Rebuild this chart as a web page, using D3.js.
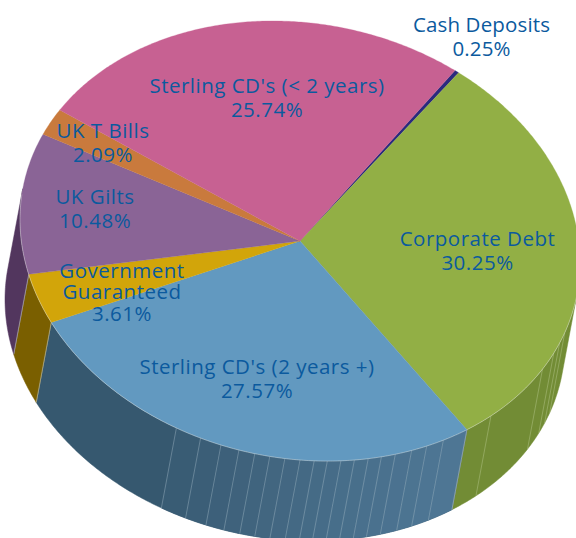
<!DOCTYPE html>
<html><head><meta charset="utf-8">
<script src="https://cdn.jsdelivr.net/npm/d3@7/dist/d3.min.js"></script>
<style>html,body{margin:0;padding:0;background:#fff;overflow:hidden}svg{display:block}</style>
</head><body><svg id="c" width="576" height="538"></svg>
<script>
const categories=["Cash Deposits","Corporate Debt","Sterling CD's (2 years +)","Government Guaranteed","UK Gilts","UK T Bills","Sterling CD's (< 2 years)"];
const shares=[0.25,30.25,27.57,3.61,10.48,2.09,25.74];
const topColors=["#2B2A7E","#92AF45","#6299C0","#D2A50A","#8A6496","#C97A3D","#C76192"];
const sideColors=["#1A1A50","#728C35","#36586F","#7A5F00","#52365E","#7D4C26","#7C3C5B"];
const blueCuts=[206.2,200.8,196.4,192.6,189.3,186.2,183.1,180,177.1,174.4,171.6,168.8,165.9,163.1,160.1,156.5,153.1,149.2];
const blueBands=["#36586F","#395C74","#3B5E77","#3D607A","#3F627C","#40647E","#426680","#436782","#446984","#456B86","#466C88","#476E8A","#486F8B","#49708D","#4A718E","#4B7290","#4C7491","#4D7593","#4E7694"];
const greenCuts=[137,120,115,112,109];
const labelLines=[["Cash Deposits","0.25%"],["Corporate Debt","30.25%"],["Sterling CD's (2 years +)","27.57%"],["Government","Guaranteed","3.61%"],["UK Gilts","10.48%"],["UK T Bills","2.09%"],["Sterling CD's (< 2 years)","25.74%"]];
const labelAnchors=[[481.5,31.5],[477.5,245.5],[257,374],[122,277.5],[95,204],[103,137.5],[267,92.5]];
const labelGaps=[24,24,24,21.7,24,24,24];
const labelTracking=[0.15,0.5,0.5,0.5,0.5,0.5,0.5];

const cx=300,cy=241,rx=280,ry=219,shear=0.077,dx=-15,dy=80;
const svg=d3.select("#c");
const sx=d3.scaleLinear().domain([-1,1]).range([cx-rx,cx+rx]);
const sy=d3.scaleLinear().domain([-1,1]).range([cy-ry,cy+ry]);
const rad=d=>d*Math.PI/180;
const pt=a=>{const s=Math.sin(a),c=Math.cos(a);return [sx(s),sy(-c)+shear*(sx(s)-cx)];};
const pie=d3.pie().sort(null).startAngle(rad(33.6)).endAngle(rad(393.6)).value(d=>d);
const arcs=pie(shares);
const line=d3.line();
const sample=(a0,a1)=>{const n=Math.max(2,Math.ceil(Math.abs(a1-a0)/rad(0.5)));return d3.range(n+1).map(i=>pt(a0+(a1-a0)*i/n));};
const isFront=a=>{const p=pt(a),q=pt(a+0.001);return ((q[1]-p[1])*dx-(q[0]-p[0])*dy)>0;};
const visibleRange=(a0,a1)=>{const keep=d3.range(0,201).map(i=>a0+(a1-a0)*i/200).filter(isFront);return keep.length?[keep[0],keep[keep.length-1]]:null;};
const band=(a0,a1)=>{const t=sample(a0,a1);const b=t.map(p=>[p[0]+dx,p[1]+dy]).reverse();return line(t.concat(b))+"Z";};
const wall=a=>{const p=pt(a);return line([p,[p[0]+dx,p[1]+dy]]);};
const gSide=svg.append("g"),gTop=svg.append("g"),gLab=svg.append("g");

arcs.forEach((d,i)=>{
  const r=visibleRange(d.startAngle,d.endAngle);
  if(!r)return;
  gSide.append("path").attr("d",band(r[0],r[1])).attr("fill",sideColors[i]).attr("stroke",sideColors[i]).attr("stroke-width",0.5);
  if(categories[i].includes("2 years +")){
    blueCuts.forEach((c,k)=>{
      const next=k+1<blueCuts.length?rad(blueCuts[k+1]):d.startAngle;
      gSide.append("path").attr("d",band(rad(c),next)).attr("fill",blueBands[k+1]).attr("stroke",blueBands[k+1]).attr("stroke-width",0.4);
    });
    blueCuts.forEach(c=>gSide.append("path").attr("d",wall(rad(c))).attr("stroke","#A9BDCB").attr("stroke-width",0.6).attr("stroke-opacity",0.7).attr("fill","none"));
  }
  if(categories[i].includes("Corporate")){
    greenCuts.forEach(c=>gSide.append("path").attr("d",wall(rad(c))).attr("stroke","#B6C78C").attr("stroke-width",0.6).attr("stroke-opacity",0.8).attr("fill","none"));
  }
  [d.startAngle,d.endAngle].forEach(a=>{
    if(a>=r[0]-1e-6&&a<=r[1]+1e-6&&isFront(a))
      gSide.append("path").attr("d",wall(a)).attr("stroke","#C8CFC8").attr("stroke-width",0.6).attr("stroke-opacity",0.8).attr("fill","none");
  });
});
arcs.forEach((d,i)=>{
  const pts=[[cx,cy]].concat(sample(d.startAngle,d.endAngle));
  gTop.append("path").attr("d",line(pts)+"Z").attr("fill",topColors[i]).attr("stroke",topColors[i]).attr("stroke-width",0.3);
});
const rim=visibleRange(rad(33.6),rad(393.6));
gTop.append("path").attr("d",line(sample(rim[0],rim[1]))).attr("fill","none").attr("stroke","#E4E8E4").attr("stroke-width",0.6).attr("stroke-opacity",0.7);

labelLines.forEach((ls,i)=>{
  const t=gLab.append("text").attr("text-anchor","middle").attr("font-family","'Open Sans',sans-serif").attr("font-size",20.5).attr("letter-spacing",labelTracking[i]).attr("fill","#0B5A9E");
  ls.forEach((s,k)=>t.append("tspan").attr("x",labelAnchors[i][0]).attr("y",labelAnchors[i][1]+k*labelGaps[i]).text(s));
});
</script></body></html>
